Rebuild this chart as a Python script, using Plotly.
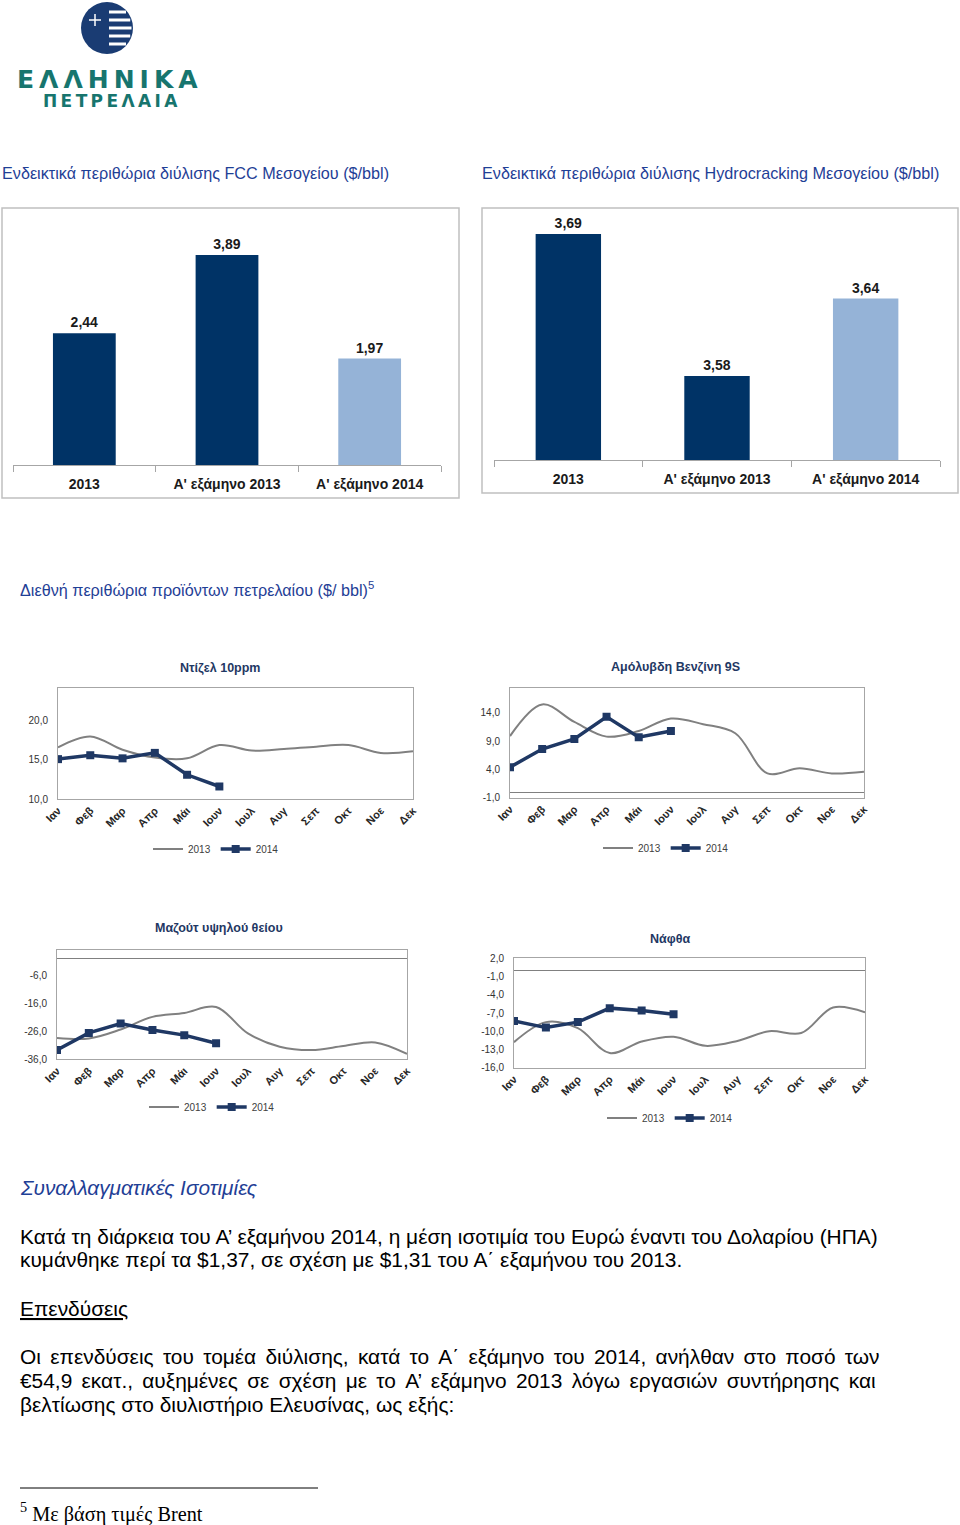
import math
import plotly.graph_objects as go

W, H = 960, 1525

# ---------------- data ----------------
bar_categories = ["2013", "A' εξάμηνο 2013", "A' εξάμηνο 2014"]
fcc_values = [2.44, 3.89, 1.97]
hydrocracking_values = [3.69, 3.58, 3.64]
bar_colors = ["#003366", "#003366", "#95B3D7"]

months = ["Ιαν", "Φεβ", "Μαρ", "Απρ", "Μάι", "Ιουν", "Ιουλ", "Αυγ", "Σεπ", "Οκτ", "Νοε", "Δεκ"]
series_names = ["2013", "2014"]

diesel_2013 = [16.6, 18.0, 16.3, 15.3, 15.2, 16.9, 16.2, 16.4, 16.7, 16.9, 15.9, 16.1]
diesel_2014 = [15.1, 15.6, 15.2, 15.9, 13.1, 11.6]
gasoline_2013 = [9.9, 15.5, 12.4, 9.8, 10.8, 13.0, 12.0, 10.4, 3.3, 4.2, 3.3, 3.6]
gasoline_2014 = [4.4, 7.6, 9.4, 13.3, 9.7, 10.8]
fueloil_2013 = [-28.4, -28.6, -25.4, -20.9, -19.5, -17.4, -26.8, -31.5, -32.7, -31.3, -30.0, -34.1]
fueloil_2014 = [-32.7, -26.6, -23.3, -25.6, -27.4, -30.3]
naphtha_2013 = [-11.8, -8.5, -9.5, -13.6, -11.7, -10.9, -12.4, -11.6, -10.0, -10.3, -6.1, -6.9]
naphtha_2014 = [-8.3, -9.4, -8.5, -6.2, -6.6, -7.2]

diesel_ticks = [10, 15, 20]
diesel_ticktext = ["10,0", "15,0", "20,0"]
gasoline_ticks = [-1, 4, 9, 14]
gasoline_ticktext = ["-1,0", "4,0", "9,0", "14,0"]
fueloil_ticks = [-36, -26, -16, -6]
fueloil_ticktext = ["-36,0", "-26,0", "-16,0", "-6,0"]
naphtha_ticks = [-16, -13, -10, -7, -4, -1, 2]
naphtha_ticktext = ["-16,0", "-13,0", "-10,0", "-7,0", "-4,0", "-1,0", "2,0"]

# ---------------- helpers ----------------
def px(x):
    return x / W


def py(y):
    return 1 - y / H


def xdom(l, r):
    return [px(l), px(r)]


def ydom(top, bottom):
    return [py(bottom), py(top)]


FONT = "Liberation Sans, Arial, sans-serif"
NAVY = "#1F3864"
GRAY = "#808080"
AXIS = "#A6A6A6"
BLUE_HEAD = "#1F4096"

fig = go.Figure()

# ---------------- bar charts ----------------
for vals, ax in [(fcc_values, ""), (hydrocracking_values, "2")]:
    fig.add_trace(go.Bar(
        x=bar_categories, y=vals, marker=dict(color=bar_colors, line=dict(width=0)),
        texttemplate="%{y:.2f}", textposition="outside", cliponaxis=False,
        textfont=dict(family=FONT, size=14, color="#1a1a1a", weight="bold"),
        xaxis="x" + ax, yaxis="y" + ax, showlegend=False, hoverinfo="skip"))

bar_x = dict(type="category", range=[-0.5, 2.5], showline=True, linecolor=AXIS, linewidth=1,
             ticks="outside", tickson="boundaries", ticklen=6, tickcolor=AXIS,
             ticklabelstandoff=6, automargin=False,
             tickfont=dict(family=FONT, size=14, color="#1a1a1a", weight="bold"),
             showgrid=False, zeroline=False, fixedrange=True)
bar_y = dict(visible=False, showgrid=False, zeroline=False, fixedrange=True, automargin=False)

fig.update_layout(
    xaxis=dict(bar_x, domain=xdom(13, 441), anchor="y"),
    yaxis=dict(bar_y, domain=ydom(222, 465), range=[0, 4.5], anchor="x"),
    xaxis2=dict(bar_x, domain=xdom(494, 940), anchor="y2"),
    yaxis2=dict(bar_y, domain=ydom(221, 460), range=[3.515, 3.70], anchor="x2"),
    bargap=0.56,
)

# ---------------- line charts ----------------
line_charts = [
    # (2013, 2014, axis id, xdom, ydom, range, tickvals, ticktext, legend id, legend x, legend y)
    (diesel_2013, diesel_2014, "3", (58, 413), (688, 799), [10, 24.2], diesel_ticks, diesel_ticktext, "legend", 216, 849),
    (gasoline_2013, gasoline_2014, "4", (510, 864), (688, 797.7), [-1, 18.4], gasoline_ticks, gasoline_ticktext, "legend2", 666, 848),
    (fueloil_2013, fueloil_2014, "5", (57, 407), (950, 1059.3), [-36, 2.9], fueloil_ticks, fueloil_ticktext, "legend3", 212, 1107),
    (naphtha_2013, naphtha_2014, "6", (514, 865), (958.3, 1067.7), [-16, 2], naphtha_ticks, naphtha_ticktext, "legend4", 670, 1118),
]

layout_updates = {}
for s13, s14, ax, xd, yd, rng, tv, tt, leg, lx, ly in line_charts:
    fig.add_trace(go.Scatter(
        x=months, y=s13, name=series_names[0], mode="lines",
        line=dict(color=GRAY, width=2, shape="spline", smoothing=1.0),
        xaxis="x" + ax, yaxis="y" + ax, legend=leg, hoverinfo="skip"))
    fig.add_trace(go.Scatter(
        x=months[:len(s14)], y=s14, name=series_names[1], mode="lines+markers",
        line=dict(color=NAVY, width=3.5),
        marker=dict(symbol="square", size=8, color=NAVY),
        xaxis="x" + ax, yaxis="y" + ax, legend=leg, hoverinfo="skip"))
    layout_updates["xaxis" + ax] = dict(
        type="category", categoryorder="array", categoryarray=months,
        domain=xdom(*xd), anchor="y" + ax, range=[0, 11], automargin=False,
        showline=True, mirror=True, linecolor=AXIS, linewidth=1,
        ticks="", showgrid=False, zeroline=False, tickangle=-45,
        tickfont=dict(family=FONT, size=11, color="#262626", weight="bold"),
        fixedrange=True)
    layout_updates["yaxis" + ax] = dict(
        domain=ydom(*yd), anchor="x" + ax, range=rng, automargin=False,
        showline=True, mirror=True, linecolor=AXIS, linewidth=1,
        tickvals=tv, ticktext=tt, ticks="", showgrid=False, ticklabelstandoff=7,
        zeroline=True, zerolinecolor=GRAY, zerolinewidth=1,
        tickfont=dict(family=FONT, size=10, color="#333333"),
        fixedrange=True)
    layout_updates[leg] = dict(
        orientation="h", x=px(lx), xanchor="center", y=py(ly), yanchor="middle",
        font=dict(family=FONT, size=10, color="#404040"), bgcolor="rgba(0,0,0,0)",
        itemwidth=30, tracegroupgap=0)

fig.update_layout(**layout_updates)

# ---------------- text ----------------
ann = []


def text(x, y, s, size=16, color="#000000", family=FONT, anchor="left", weight="normal", style="normal", yanchor="middle"):
    ann.append(dict(x=px(x), y=py(y), xref="paper", yref="paper", text=s, showarrow=False,
                    xanchor=anchor, yanchor=yanchor, align=anchor,
                    font=dict(family=family, size=size, color=color, weight=weight, style=style)))


def justify(s):
    # widen the inter-word gaps a little to imitate justified text
    return " \u2006".join(s.split(" "))


# logo text
text(107, 79, "\u2009".join("ΕΛΛΗΝΙΚΑ"), size=25, color="#17756E", family="DejaVu Sans, sans-serif",
     anchor="center", weight="bold")
text(110, 101, "\u2009".join("ΠΕΤΡΕΛΑΙΑ"), size=17, color="#17756E", family="DejaVu Sans, sans-serif",
     anchor="center", weight="bold")

text(0, 173, "Ενδεικτικά περιθώρια διύλισης FCC Μεσογείου ($/bbl)", size=16.2, color=BLUE_HEAD)
text(480, 173, "Ενδεικτικά περιθώρια διύλισης Hydrocracking Μεσογείου ($/bbl)", size=16.2, color=BLUE_HEAD)
text(18, 589, "Διεθνή περιθώρια προϊόντων πετρελαίου ($/ bbl)<sup>5</sup>", size=16.2, color=BLUE_HEAD)

text(220, 668, "Ντίζελ 10ppm", size=12.5, color=NAVY, anchor="center", weight="bold")
text(675, 667, "Αμόλυβδη Βενζίνη 9S", size=12.5, color=NAVY, anchor="center", weight="bold")
text(219, 928, "Μαζούτ υψηλού θείου", size=12.5, color=NAVY, anchor="center", weight="bold")
text(670, 939, "Νάφθα", size=12.5, color=NAVY, anchor="center", weight="bold")

text(18, 1187, "Συναλλαγματικές Ισοτιμίες", size=20.8, color=BLUE_HEAD, style="italic")
text(18, 1236, "Κατά τη διάρκεια του Α’ εξαμήνου 2014, η μέση ισοτιμία του Ευρώ έναντι του Δολαρίου (ΗΠΑ)", size=20.9)
text(18, 1259, "κυμάνθηκε περί τα $1,37, σε σχέση με $1,31 του Α΄ εξαμήνου του 2013.", size=20.9)
text(18, 1308, "<u>Επενδύσεις</u>", size=20.9)
text(18, 1356, justify("Οι επενδύσεις του τομέα διύλισης, κατά το Α΄ εξάμηνο του 2014, ανήλθαν στο ποσό των"), size=20.9)
text(18, 1380, justify("€54,9 εκατ., αυξημένες σε σχέση με το Α’ εξάμηνο 2013 λόγω εργασιών συντήρησης και"), size=20.9)
text(18, 1404, "βελτίωσης στο διυλιστήριο Ελευσίνας, ως εξής:", size=20.9)
text(18, 1512, "<sup>5</sup> Με βάση τιμές Brent", size=20.3, family="Liberation Serif, Times New Roman, serif")

fig.update_layout(annotations=ann)

# ---------------- shapes ----------------
shapes = []


def rect(x0, y0, x1, y1, color, width=1.5, fill=None):
    shapes.append(dict(type="rect", xref="paper", yref="paper", x0=px(x0), x1=px(x1), y0=py(y1), y1=py(y0),
                       line=dict(color=color, width=width), fillcolor=fill or "rgba(0,0,0,0)", layer="below"))


def seg(x0, y0, x1, y1, color, width=1):
    shapes.append(dict(type="line", xref="paper", yref="paper", x0=px(x0), x1=px(x1), y0=py(y0), y1=py(y1),
                       line=dict(color=color, width=width), layer="above"))


rect(2, 208, 459, 498, "#C0C0C0")
rect(482, 208, 958, 493, "#C0C0C0")
seg(20, 1488, 318, 1488, "#000000", 1)

# logo emblem
cx, cy, r = 107, 28, 26
shapes.append(dict(type="circle", xref="paper", yref="paper", x0=px(cx - r), x1=px(cx + r),
                   y0=py(cy + r), y1=py(cy - r), line=dict(width=0), fillcolor="#1A3C73", layer="above"))
for sy in [12, 20, 28, 36, 44]:
    half = math.sqrt(max(r * r - (sy - cy) ** 2, 0)) - 1.5
    seg(cx + 2, sy, cx + half, sy, "#FFFFFF", 3)
seg(89, 20, 101, 20, "#FFFFFF", 1.5)
seg(95, 14, 95, 26, "#FFFFFF", 1.5)

fig.update_layout(shapes=shapes)

fig.update_layout(
    template="none",
    width=W, height=H, margin=dict(l=0, r=0, t=0, b=0, pad=0, autoexpand=False),
    paper_bgcolor="white", plot_bgcolor="white",
    separators=",.", font=dict(family=FONT),
)

fig.write_html("out.html", config={"displayModeBar": False},
               post_script="document.body.style.margin='0';document.body.style.padding='0';")
